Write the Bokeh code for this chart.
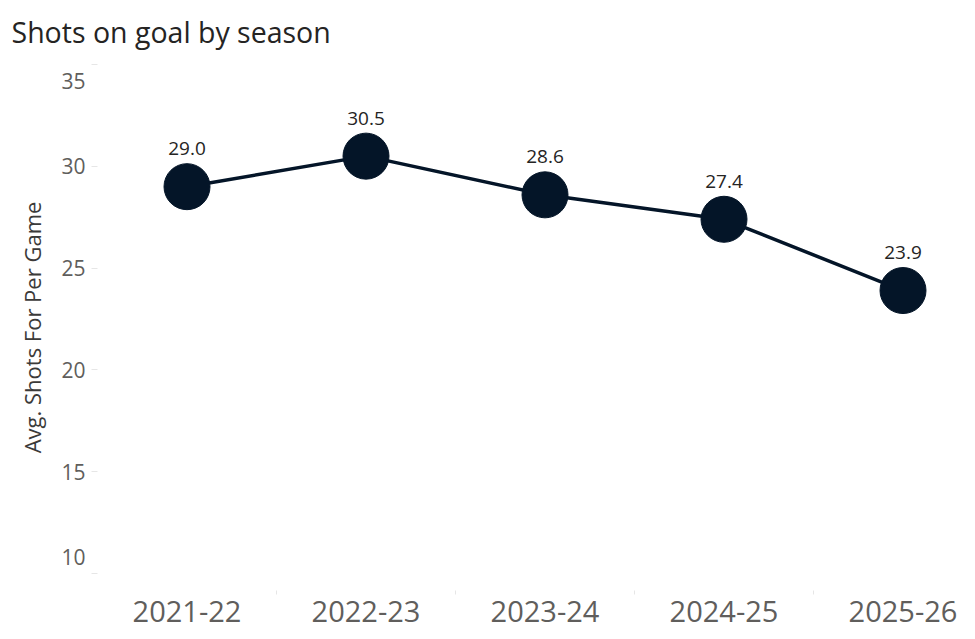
from bokeh.plotting import figure
from bokeh.models import Range1d, FixedTicker, ColumnDataSource, LabelSet
from bokeh.core.properties import value
from bokeh.embed import file_html
from bokeh.resources import INLINE

seasons = ["2021-22", "2022-23", "2023-24", "2024-25", "2025-26"]
shots = [29.0, 30.5, 28.6, 27.4, 23.9]
y_ticks = [10, 15, 20, 25, 30, 35]
y_tick_labels = ["10", "15", "20", "25", "30", "35"]

FONT = "Open Sans"
NAVY = "#041528"

xs = [i + 0.5 for i in range(len(seasons))]
src = ColumnDataSource(dict(x=xs, y=shots, lbl=[f"{v:.1f}" for v in shots]))

p = figure(width=975, height=639, output_backend="svg", toolbar_location=None,
           x_range=Range1d(0, 4.905), y_range=Range1d(9.17, 35),
           min_border_left=97, min_border_right=0, min_border_top=63, min_border_bottom=49)

p.title.text = "Shots on goal by season"
p.title.text_font = FONT
p.title.text_font_size = "28.5px"
p.title.text_font_style = "normal"
p.title.text_color = "#252423"
p.title.offset = -86
p.title.standoff = 24
p.title.vertical_align = "top"

p.outline_line_color = None
p.grid.visible = False

p.line("x", "y", source=src, line_color=NAVY, line_width=3.5)
p.scatter("x", "y", source=src, size=46, fill_color=NAVY, line_color=NAVY)

labels = LabelSet(x="x", y="y", text="lbl", source=src, y_offset=38,
                  text_align="center", text_baseline="middle",
                  text_font=value(FONT), text_font_size="19px", text_color="#252423")
p.add_layout(labels)

xa = p.xaxis[0]
xa.ticker = FixedTicker(ticks=xs, minor_ticks=[1, 2, 3, 4])
xa.major_label_overrides = {x: s for x, s in zip(xs, seasons)}
xa.axis_line_color = None
xa.major_tick_line_color = None
xa.minor_tick_line_color = "#E6E6E6"
xa.minor_tick_in = 0
xa.minor_tick_out = 4
xa.major_label_text_font = FONT
xa.major_label_text_font_size = "29px"
xa.major_label_text_color = "#605E5C"
xa.major_label_standoff = 4

# end labels pulled inside the axis span, as in the original
ylab = {t: s for t, s in zip(y_ticks, y_tick_labels)}
ylab[max(y_ticks)] = "\n" + ylab[max(y_ticks)]
ylab[min(y_ticks)] = ylab[min(y_ticks)] + "\n"

ya = p.yaxis[0]
ya.ticker = FixedTicker(ticks=y_ticks, minor_ticks=[])
ya.major_label_overrides = ylab
ya.axis_line_color = None
ya.major_tick_line_color = "#E6E6E6"
ya.major_tick_in = 0
ya.major_tick_out = 6
ya.minor_tick_line_color = None
ya.major_label_text_font = FONT
ya.major_label_text_font_size = "21px"
ya.major_label_text_color = "#605E5C"
ya.major_label_standoff = 6
ya.axis_label = "Avg. Shots For Per Game"
ya.axis_label_text_font = FONT
ya.axis_label_text_font_size = "22px"
ya.axis_label_text_font_style = "normal"
ya.axis_label_text_color = "#3B3A39"
ya.axis_label_standoff = 11

open("out.html", "w").write(file_html(p, INLINE))
